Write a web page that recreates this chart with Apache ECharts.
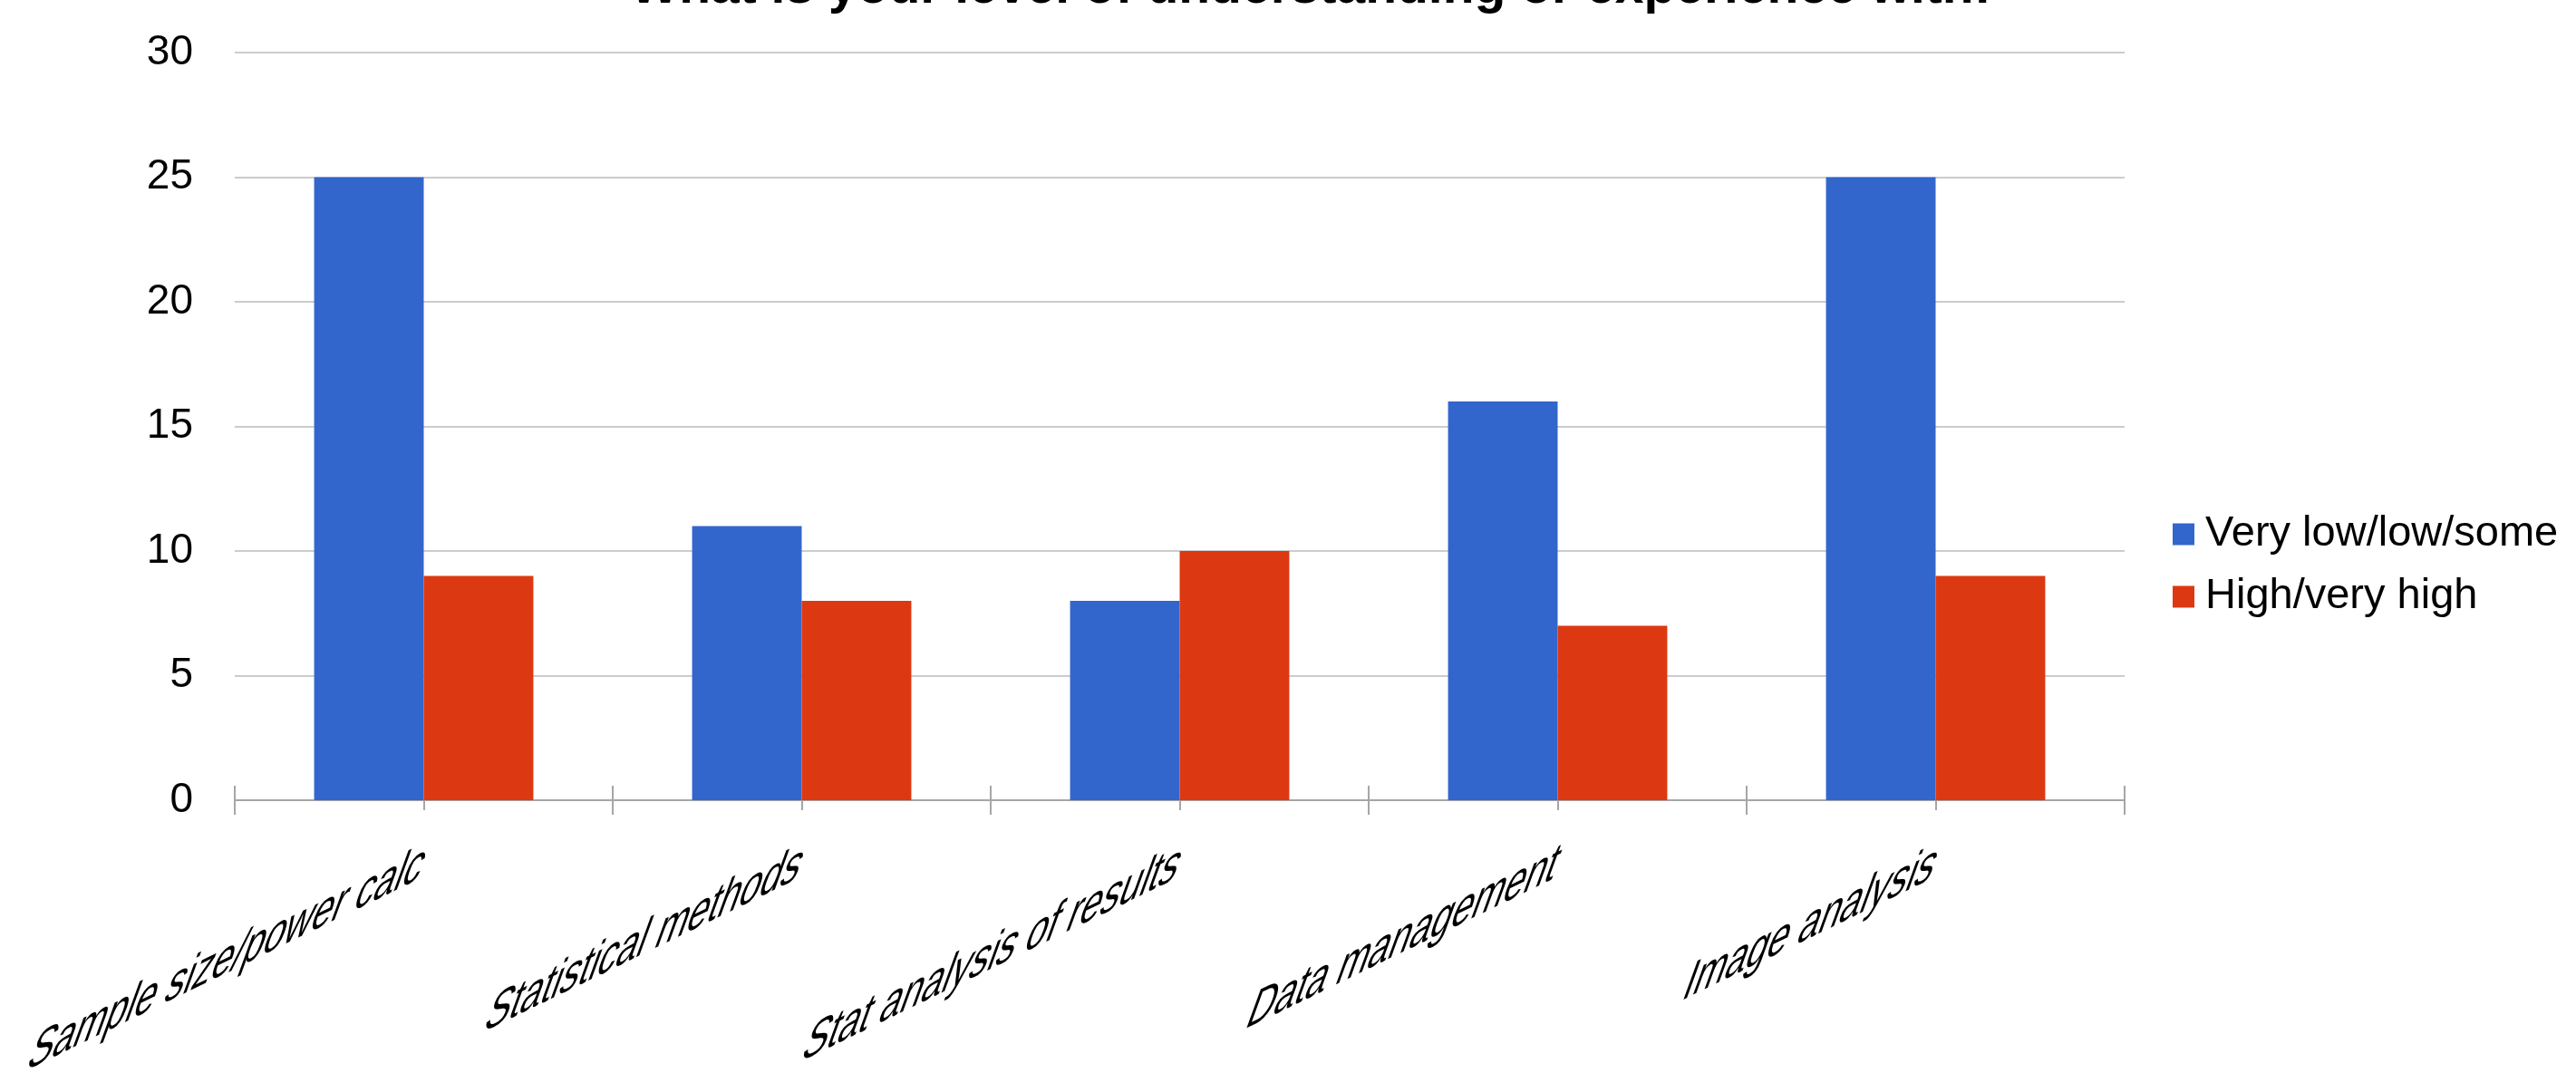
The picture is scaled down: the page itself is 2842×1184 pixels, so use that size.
<!DOCTYPE html>
<html>
<head>
<meta charset="utf-8">
<title>What is your level of understanding or experience with:</title>
<script src="https://cdn.jsdelivr.net/npm/echarts@6/dist/echarts.min.js"></script>
<style>
  html, body { margin: 0; padding: 0; background: #ffffff; }
  #chart { width: 2842px; height: 1184px; }
</style>
</head>
<body>
<div id="chart"></div>
<script>
// Survey topics along the x axis
const categories = [
  'Sample size/power calc',
  'Statistical methods',
  'Stat analysis of results',
  'Data management',
  'Image analysis'
];

// Number of respondents per self-rated level
const seriesNames = ['Very low/low/some', 'High/very high'];
const lowValues = [25, 11, 8, 16, 25];
const highValues = [9, 8, 10, 7, 9];

// Value axis range
const yMin = 0;
const yMax = 30;
const yStep = 5;

const FONT = '"Liberation Sans", Arial, Helvetica, sans-serif';
const TICK_COLOR = '#a6a6a6';
// slanted category labels: baseline rotation plus an oblique shear of the glyphs
const LABEL_ROTATE = 26;
const LABEL_SHEAR = -46 * Math.PI / 180;

const chart = echarts.init(document.getElementById('chart'), null, { renderer: 'canvas' });

chart.setOption({
  backgroundColor: '#ffffff',
  animation: false,
  title: {
    text: 'What is your level of understanding or experience with:',
    left: 1441,
    textAlign: 'center',
    top: -46,
    textStyle: {
      fontFamily: FONT,
      fontSize: 57,
      fontWeight: 'bold',
      color: '#000000'
    }
  },
  legend: {
    orient: 'vertical',
    left: 2392,
    top: 561,
    itemWidth: 24,
    itemHeight: 24,
    itemGap: 22,
    icon: 'rect',
    data: seriesNames,
    textStyle: {
      fontFamily: FONT,
      fontSize: 47,
      color: '#000000',
      padding: [0, 0, 0, 7]
    }
  },
  grid: {
    left: 259,
    right: 498,
    top: 58,
    bottom: 301,
    containLabel: false,
    outerBoundsMode: 'none'
  },
  xAxis: [
    {
      // main category axis with boundary ticks hanging below the line
      type: 'category',
      data: categories,
      boundaryGap: true,
      axisLine: { show: true, lineStyle: { color: TICK_COLOR, width: 2 } },
      axisTick: { show: true, alignWithLabel: false, length: 16, lineStyle: { color: TICK_COLOR, width: 2 } },
      axisLabel: {
        show: true,
        rotate: LABEL_ROTATE,
        margin: 70,
        fontFamily: FONT,
        fontSize: 46,
        color: '#000000',
        interval: 0,
        hideOverlap: false
      },
      splitLine: { show: false }
    },
    {
      // boundary ticks rising above the line
      type: 'category',
      data: categories,
      position: 'bottom',
      boundaryGap: true,
      axisLine: { show: false },
      axisTick: { show: true, inside: true, alignWithLabel: false, length: 16, lineStyle: { color: TICK_COLOR, width: 2 } },
      axisLabel: { show: false },
      splitLine: { show: false }
    },
    {
      // short ticks under each category centre
      type: 'category',
      data: categories,
      position: 'bottom',
      boundaryGap: true,
      axisLine: { show: false },
      axisTick: { show: true, alignWithLabel: true, length: 11, lineStyle: { color: TICK_COLOR, width: 2 } },
      axisLabel: { show: false },
      splitLine: { show: false }
    }
  ],
  yAxis: {
    type: 'value',
    min: yMin,
    max: yMax,
    interval: yStep,
    axisLine: { show: false },
    axisTick: { show: false },
    axisLabel: {
      margin: 46,
      fontFamily: FONT,
      fontSize: 46,
      color: '#000000'
    },
    splitLine: { show: true, lineStyle: { color: '#cccccc', width: 2 } }
  },
  series: [
    {
      name: seriesNames[0],
      type: 'bar',
      xAxisIndex: 0,
      data: lowValues,
      barGap: '0%',
      barCategoryGap: '42%',
      itemStyle: { color: '#3366cc' },
      z: 3
    },
    {
      name: seriesNames[1],
      type: 'bar',
      xAxisIndex: 0,
      data: highValues,
      barGap: '0%',
      barCategoryGap: '42%',
      itemStyle: { color: '#dc3912' },
      z: 3
    }
  ]
});

// give the rotated category labels their oblique slant
function shearCategoryLabels() {
  const zr = chart.getZr();
  zr.storage.getRoots().forEach(function (root) {
    const visit = function (el) {
      if (el.type === 'text' && el.style && categories.indexOf(el.style.text) >= 0) {
        if (el.skewX !== LABEL_SHEAR) {
          el.skewX = LABEL_SHEAR;
          el.markRedraw();
        }
      }
    };
    visit(root);
    if (root.traverse) {
      root.traverse(visit);
    }
  });
  zr.refresh();
}
shearCategoryLabels();
chart.on('finished', shearCategoryLabels);
</script>
</body>
</html>
